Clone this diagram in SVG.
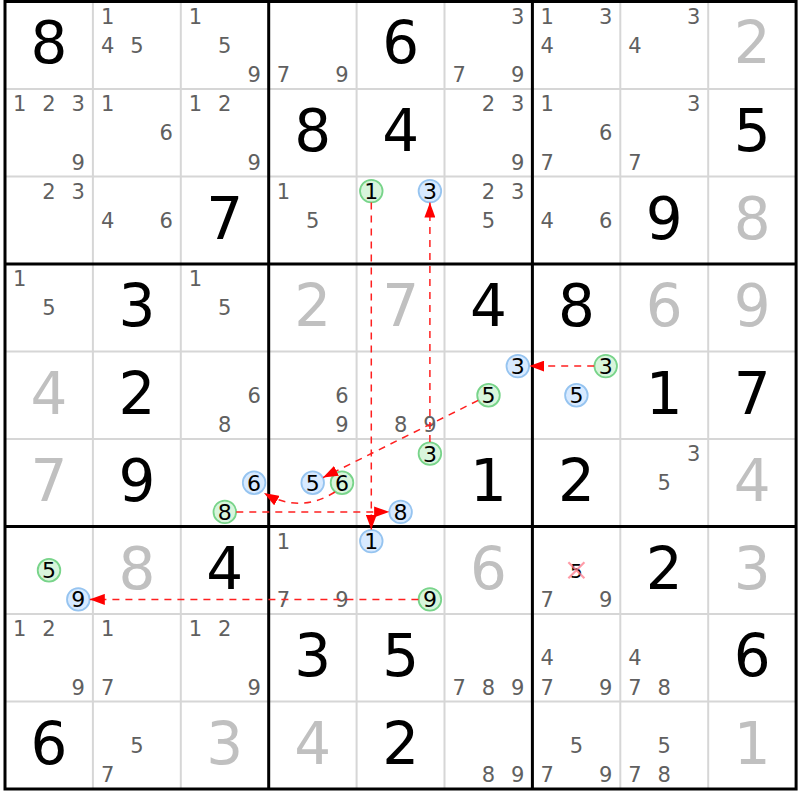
<svg xmlns="http://www.w3.org/2000/svg" width="800" height="800" viewBox="0 0 800 800">
<defs>
<style>
text{font-family:"DejaVu Sans",Verdana,sans-serif;text-anchor:middle}
.k{font-size:58px;fill:#000}
.s{font-size:58px;fill:#c0c0c0}
.c{font-size:21px;fill:#606060}
.n{font-size:22px;fill:#000}
.thin{stroke:#d6d6d6;stroke-width:2;fill:none}
.thick{stroke:#000;stroke-width:3;fill:none}
.gc{fill:#d8f5dc;stroke:#78d48a;stroke-width:1.8}
.bc{fill:#d8eaff;stroke:#96c4f0;stroke-width:1.8}
.ar{fill:none;stroke:#ff2020;stroke-width:1.5;stroke-dasharray:7 6;marker-end:url(#ah)}
</style>
<marker id="ah" markerUnits="userSpaceOnUse" markerWidth="15" markerHeight="11" refX="15" refY="5.5" orient="auto">
<path d="M0,0 L15,5.5 L0,11 Z" fill="#ff0000"/>
</marker>
</defs>
<rect x="0" y="0" width="800" height="800" fill="#fff"/>
<g id="grid">
<path class="thin" d="M92.9,1.5V789M180.8,1.5V789M356.6,1.5V789M444.5,1.5V789M620.3,1.5V789M708.2,1.5V789M5,89H796.1M5,176.5H796.1M5,351.5H796.1M5,439H796.1M5,614H796.1M5,701.5H796.1"/>
<path class="thick" d="M268.7,1.5V789M532.4,1.5V789M5,264H796.1M5,526.5H796.1"/>
<rect class="thick" x="5" y="1.5" width="791.1" height="787.5"/>
</g>
<g id="r1c1"><text class="k" x="49" y="63.4">8</text></g>
<g id="r1c2"><text class="c" x="107.6" y="23.7">1</text><text class="c" x="107.6" y="52.9">4</text><text class="c" x="136.9" y="52.9">5</text></g>
<g id="r1c3"><text class="c" x="195.5" y="23.7">1</text><text class="c" x="224.8" y="52.9">5</text><text class="c" x="254.1" y="82">9</text></g>
<g id="r1c4"><text class="c" x="283.4" y="82">7</text><text class="c" x="342" y="82">9</text></g>
<g id="r1c5"><text class="k" x="400.6" y="63.4">6</text></g>
<g id="r1c6"><text class="c" x="517.8" y="23.7">3</text><text class="c" x="459.2" y="82">7</text><text class="c" x="517.8" y="82">9</text></g>
<g id="r1c7"><text class="c" x="547.1" y="23.7">1</text><text class="c" x="605.7" y="23.7">3</text><text class="c" x="547.1" y="52.9">4</text></g>
<g id="r1c8"><text class="c" x="693.6" y="23.7">3</text><text class="c" x="635" y="52.9">4</text></g>
<g id="r1c9"><text class="s" x="752.2" y="63.4">2</text></g>
<g id="r2c1"><text class="c" x="19.7" y="111.2">1</text><text class="c" x="49" y="111.2">2</text><text class="c" x="78.3" y="111.2">3</text><text class="c" x="78.3" y="169.5">9</text></g>
<g id="r2c2"><text class="c" x="107.6" y="111.2">1</text><text class="c" x="166.2" y="140.4">6</text></g>
<g id="r2c3"><text class="c" x="195.5" y="111.2">1</text><text class="c" x="224.8" y="111.2">2</text><text class="c" x="254.1" y="169.5">9</text></g>
<g id="r2c4"><text class="k" x="312.7" y="151">8</text></g>
<g id="r2c5"><text class="k" x="400.6" y="151">4</text></g>
<g id="r2c6"><text class="c" x="488.5" y="111.2">2</text><text class="c" x="517.8" y="111.2">3</text><text class="c" x="517.8" y="169.5">9</text></g>
<g id="r2c7"><text class="c" x="547.1" y="111.2">1</text><text class="c" x="605.7" y="140.4">6</text><text class="c" x="547.1" y="169.5">7</text></g>
<g id="r2c8"><text class="c" x="693.6" y="111.2">3</text><text class="c" x="635" y="169.5">7</text></g>
<g id="r2c9"><text class="k" x="752.2" y="151">5</text></g>
<g id="r3c1"><text class="c" x="49" y="198.7">2</text><text class="c" x="78.3" y="198.7">3</text></g>
<g id="r3c2"><text class="c" x="107.6" y="227.9">4</text><text class="c" x="166.2" y="227.9">6</text></g>
<g id="r3c3"><text class="k" x="224.8" y="238.5">7</text></g>
<g id="r3c4"><text class="c" x="283.4" y="198.7">1</text><text class="c" x="312.7" y="227.9">5</text></g>
<g id="r3c5"><circle class="gc" cx="371.3" cy="191.1" r="11.3"/><text class="n" x="371.3" y="199">1</text><circle class="bc" cx="429.9" cy="191.1" r="11.3"/><text class="n" x="429.9" y="199">3</text></g>
<g id="r3c6"><text class="c" x="488.5" y="198.7">2</text><text class="c" x="517.8" y="198.7">3</text><text class="c" x="488.5" y="227.9">5</text></g>
<g id="r3c7"><text class="c" x="547.1" y="227.9">4</text><text class="c" x="605.7" y="227.9">6</text></g>
<g id="r3c8"><text class="k" x="664.3" y="238.5">9</text></g>
<g id="r3c9"><text class="s" x="752.2" y="238.5">8</text></g>
<g id="r4c1"><text class="c" x="19.7" y="286.2">1</text><text class="c" x="49" y="315.4">5</text></g>
<g id="r4c2"><text class="k" x="136.9" y="326">3</text></g>
<g id="r4c3"><text class="c" x="195.5" y="286.2">1</text><text class="c" x="224.8" y="315.4">5</text></g>
<g id="r4c4"><text class="s" x="312.7" y="326">2</text></g>
<g id="r4c5"><text class="s" x="400.6" y="326">7</text></g>
<g id="r4c6"><text class="k" x="488.5" y="326">4</text></g>
<g id="r4c7"><text class="k" x="576.4" y="326">8</text></g>
<g id="r4c8"><text class="s" x="664.3" y="326">6</text></g>
<g id="r4c9"><text class="s" x="752.2" y="326">9</text></g>
<g id="r5c1"><text class="s" x="49" y="413.5">4</text></g>
<g id="r5c2"><text class="k" x="136.9" y="413.5">2</text></g>
<g id="r5c3"><text class="c" x="254.1" y="402.9">6</text><text class="c" x="224.8" y="432">8</text></g>
<g id="r5c4"><text class="c" x="342" y="402.9">6</text><text class="c" x="342" y="432">9</text></g>
<g id="r5c5"><text class="c" x="400.6" y="432">8</text><text class="c" x="429.9" y="432">9</text></g>
<g id="r5c6"><circle class="bc" cx="517.8" cy="366.1" r="11.3"/><text class="n" x="517.8" y="374">3</text><circle class="gc" cx="488.5" cy="395.25" r="11.3"/><text class="n" x="488.5" y="403.2">5</text></g>
<g id="r5c7"><circle class="gc" cx="605.7" cy="366.1" r="11.3"/><text class="n" x="605.7" y="374">3</text><circle class="bc" cx="576.4" cy="395.25" r="11.3"/><text class="n" x="576.4" y="403.2">5</text></g>
<g id="r5c8"><text class="k" x="664.3" y="413.5">1</text></g>
<g id="r5c9"><text class="k" x="752.2" y="413.5">7</text></g>
<g id="r6c1"><text class="s" x="49" y="501">7</text></g>
<g id="r6c2"><text class="k" x="136.9" y="501">9</text></g>
<g id="r6c3"><circle class="bc" cx="254.1" cy="482.75" r="11.3"/><text class="n" x="254.1" y="490.7">6</text><circle class="gc" cx="224.8" cy="511.9" r="11.3"/><text class="n" x="224.8" y="519.8">8</text></g>
<g id="r6c4"><circle class="bc" cx="312.7" cy="482.75" r="11.3"/><text class="n" x="312.7" y="490.7">5</text><circle class="gc" cx="342" cy="482.75" r="11.3"/><text class="n" x="342" y="490.7">6</text></g>
<g id="r6c5"><circle class="gc" cx="429.9" cy="453.6" r="11.3"/><text class="n" x="429.9" y="461.5">3</text><circle class="bc" cx="400.6" cy="511.9" r="11.3"/><text class="n" x="400.6" y="519.8">8</text></g>
<g id="r6c6"><text class="k" x="488.5" y="501">1</text></g>
<g id="r6c7"><text class="k" x="576.4" y="501">2</text></g>
<g id="r6c8"><text class="c" x="693.6" y="461.2">3</text><text class="c" x="664.3" y="490.4">5</text></g>
<g id="r6c9"><text class="s" x="752.2" y="501">4</text></g>
<g id="r7c1"><circle class="gc" cx="49" cy="570.25" r="11.3"/><text class="n" x="49" y="578.2">5</text><circle class="bc" cx="78.3" cy="599.4" r="11.3"/><text class="n" x="78.3" y="607.3">9</text></g>
<g id="r7c2"><text class="s" x="136.9" y="588.5">8</text></g>
<g id="r7c3"><text class="k" x="224.8" y="588.5">4</text></g>
<g id="r7c4"><text class="c" x="283.4" y="548.7">1</text><text class="c" x="283.4" y="607">7</text><text class="c" x="342" y="607">9</text></g>
<g id="r7c5"><circle class="bc" cx="371.3" cy="541.1" r="11.3"/><text class="n" x="371.3" y="549">1</text><circle class="gc" cx="429.9" cy="599.4" r="11.3"/><text class="n" x="429.9" y="607.3">9</text></g>
<g id="r7c6"><text class="s" x="488.5" y="588.5">6</text></g>
<g id="r7c7"><text class="n" x="576.4" y="577.5" style="font-size:20px">5</text><path d="M568.4,562.3L584.4,578.3M584.4,562.3L568.4,578.3" stroke="#ff7a8a" stroke-width="2.2" stroke-opacity="0.75" fill="none"/><text class="c" x="547.1" y="607">7</text><text class="c" x="605.7" y="607">9</text></g>
<g id="r7c8"><text class="k" x="664.3" y="588.5">2</text></g>
<g id="r7c9"><text class="s" x="752.2" y="588.5">3</text></g>
<g id="r8c1"><text class="c" x="19.7" y="636.2">1</text><text class="c" x="49" y="636.2">2</text><text class="c" x="78.3" y="694.5">9</text></g>
<g id="r8c2"><text class="c" x="107.6" y="636.2">1</text><text class="c" x="107.6" y="694.5">7</text></g>
<g id="r8c3"><text class="c" x="195.5" y="636.2">1</text><text class="c" x="224.8" y="636.2">2</text><text class="c" x="254.1" y="694.5">9</text></g>
<g id="r8c4"><text class="k" x="312.7" y="676">3</text></g>
<g id="r8c5"><text class="k" x="400.6" y="676">5</text></g>
<g id="r8c6"><text class="c" x="459.2" y="694.5">7</text><text class="c" x="488.5" y="694.5">8</text><text class="c" x="517.8" y="694.5">9</text></g>
<g id="r8c7"><text class="c" x="547.1" y="665.4">4</text><text class="c" x="547.1" y="694.5">7</text><text class="c" x="605.7" y="694.5">9</text></g>
<g id="r8c8"><text class="c" x="635" y="665.4">4</text><text class="c" x="635" y="694.5">7</text><text class="c" x="664.3" y="694.5">8</text></g>
<g id="r8c9"><text class="k" x="752.2" y="676">6</text></g>
<g id="r9c1"><text class="k" x="49" y="763.5">6</text></g>
<g id="r9c2"><text class="c" x="136.9" y="752.9">5</text><text class="c" x="107.6" y="782">7</text></g>
<g id="r9c3"><text class="s" x="224.8" y="763.5">3</text></g>
<g id="r9c4"><text class="s" x="312.7" y="763.5">4</text></g>
<g id="r9c5"><text class="k" x="400.6" y="763.5">2</text></g>
<g id="r9c6"><text class="c" x="488.5" y="782">8</text><text class="c" x="517.8" y="782">9</text></g>
<g id="r9c7"><text class="c" x="576.4" y="752.9">5</text><text class="c" x="547.1" y="782">7</text><text class="c" x="605.7" y="782">9</text></g>
<g id="r9c8"><text class="c" x="664.3" y="752.9">5</text><text class="c" x="635" y="782">7</text><text class="c" x="664.3" y="782">8</text></g>
<g id="r9c9"><text class="s" x="752.2" y="763.5">1</text></g>
<g id="connectors">
<path class="ar" d="M371.3,202.6L371.3,529.6"/>
<path class="ar" d="M429.9,442.1L429.9,202.6"/>
<path class="ar" d="M594.2,366.1L529.3,366.1"/>
<path class="ar" d="M478.2,400.4L323,477.6"/>
<path class="ar" d="M335,492Q300,514 264,493"/>
<path class="ar" d="M236.3,511.9L389.1,511.9"/>
<path class="ar" d="M418.4,599.4L89.8,599.4"/>
</g>
</svg>
